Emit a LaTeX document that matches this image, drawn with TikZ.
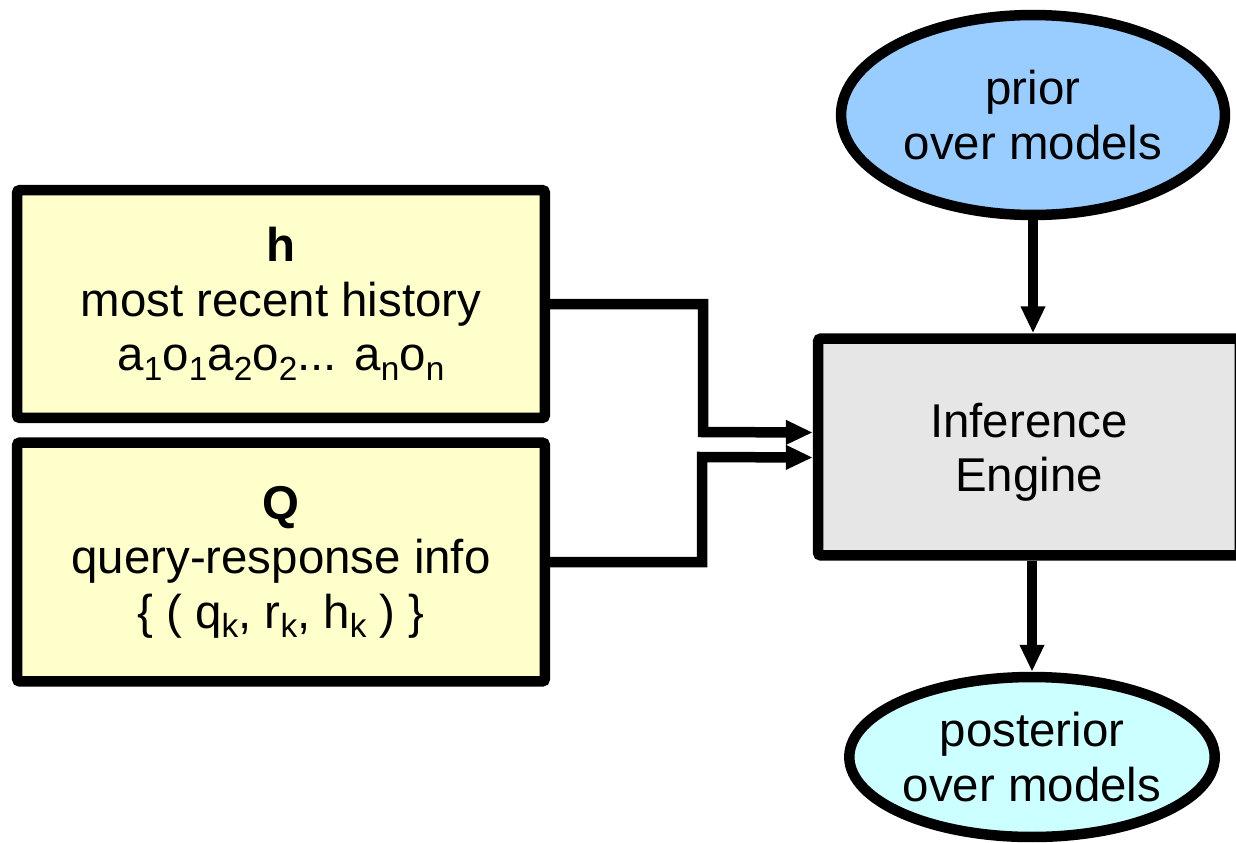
\documentclass[tikz,border=0pt]{standalone}
\usepackage{fontspec}
\setmainfont{Liberation Sans}
\usetikzlibrary{arrows.meta,shapes.geometric}

\definecolor{inyellow}{HTML}{FFFFCC}
\definecolor{priorblue}{HTML}{99CCFF}
\definecolor{enginegray}{HTML}{E6E6E6}
\definecolor{postcyan}{HTML}{CCFFFF}

% lowered subscript in the text font
\newcommand{\lowsub}[1]{\raisebox{-0.2em}{\fontsize{19}{19}\selectfont #1}}

\tikzset{
  lbl/.style={font=\fontsize{27}{31}\selectfont, align=center, text=black},
  inbox/.style={lbl, draw=black, line width=0.21cm, rectangle, rounded corners=0.06cm,
    fill=inyellow, minimum width=10.56cm, minimum height=#1, inner sep=0pt},
  enginebox/.style={lbl, draw=black, line width=0.21cm, rectangle, rounded corners=0.06cm,
    fill=enginegray, minimum width=8.44cm, minimum height=4.34cm, inner sep=0pt},
  blob/.style={lbl, draw=black, line width=0.21cm, ellipse, inner sep=0pt},
  conn/.style={draw=black, line width=0.21cm, line join=miter,
    -{Triangle[length=0.54cm,width=0.46cm]}}
}

\begin{document}
\begin{tikzpicture}[x=0.02cm,y=-0.02cm]
  \useasboundingbox (0,0) rectangle (1236,842);

  % inputs
  \node[inbox=4.56cm] (h) at (281,304)
    {\textbf{h}\\most recent history\\a\lowsub{1}o\lowsub{1}a\lowsub{2}o\lowsub{2}... a\lowsub{n}o\lowsub{n}};
  \node[inbox=4.78cm] (q) at (281,562)
    {\textbf{Q}\\query-response info\\\{ ( q\lowsub{k}, r\lowsub{k}, h\lowsub{k} ) \}};

  % engine and model distributions
  \node[enginebox] (ie) at (1029,447)
    {\raisebox{-0.13cm}[\height][\depth]{\begin{tabular}{@{}c@{}}Inference\\Engine\end{tabular}}};
  \node[blob, fill=priorblue, minimum width=7.68cm, minimum height=4.0cm] (prior) at (1033,115)
    {prior\\over models};
  \node[blob, fill=postcyan, minimum width=7.02cm, minimum height=3.2cm] (post) at (1032,757)
    {posterior\\over models};

  % entry points on the engine
  \coordinate (in1) at ([yshift=0.29cm]ie.west);
  \coordinate (in2) at ([yshift=-0.21cm]ie.west);

  % connectors
  \draw[conn] (h.east) -- (703,304) -- (703,432) -- (in1);
  \draw[conn] (q.east) -- (702,562) -- (702,457) -- (in2);
  \draw[conn] (prior.south) -- (prior.south |- ie.north);
  \draw[conn] (ie.south -| post.north) -- (post.north);
\end{tikzpicture}
\end{document}
